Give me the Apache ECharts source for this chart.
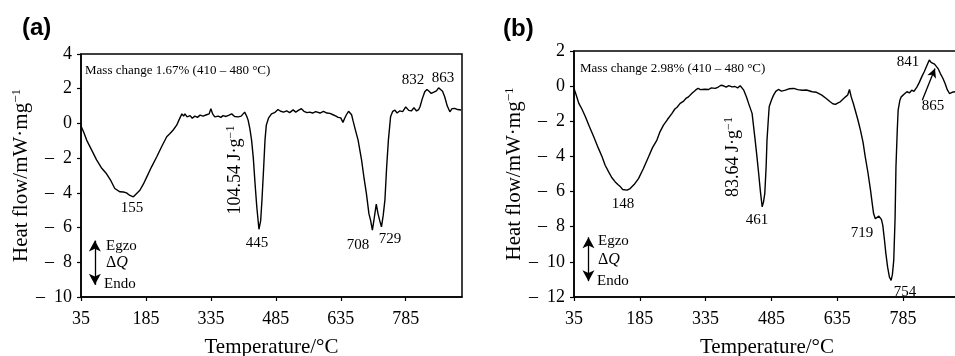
<!DOCTYPE html>
<html>
<head>
<meta charset="utf-8">
<script src="https://cdn.jsdelivr.net/npm/echarts@6/dist/echarts.min.js"></script>
<style>
  html, body { margin: 0; padding: 0; background: #fff; }
  #chart { width: 955px; height: 356px; }
</style>
</head>
<body>
<div id="chart"></div>
<script>
// x tick labels shared by both panels
const xTicks = [35, 185, 335, 485, 635, 785];

// panel (a) DSC curve
const tempA = [35, 42, 48, 60, 71, 82, 94, 104, 113, 125, 133, 140, 148, 156, 163, 171, 179, 187, 198, 210,
  222, 233, 240, 248, 256, 263, 268, 272, 275, 280, 287, 292, 298, 304, 310, 317, 325, 331, 335, 339,
  344, 352, 358, 363, 370, 377, 383, 390, 398, 405, 413, 418, 421, 425, 429, 433, 437, 441, 446, 450,
  453, 457, 460, 463, 468, 475, 482, 490, 496, 503, 510, 517, 525, 531, 537, 544, 550, 557, 563, 570,
  577, 587, 595, 603, 610, 617, 624, 629, 635, 640, 644, 648, 653, 657, 660, 663, 669, 675, 683, 689,
  694, 700, 704, 708, 712, 717, 721, 725, 729, 733, 737, 741, 745, 750, 755, 760, 765, 771, 778, 785,
  792, 798, 804, 810, 815, 818, 823, 829, 834, 839, 844, 850, 856, 861, 865, 870, 875, 881, 887, 892,
  898, 905, 913];
const heatA = [-0.15, -0.55, -0.96, -1.55, -2.1, -2.55, -2.9, -3.3, -3.75, -3.94, -3.95, -4.0, -4.15, -4.23, -4.05, -3.85, -3.5, -3.08, -2.5, -1.92,
  -1.3, -0.77, -0.6, -0.38, -0.1, 0.29, 0.55, 0.42, 0.55, 0.38, 0.45, 0.3, 0.42, 0.35, 0.48, 0.42, 0.5, 0.55, 0.85, 0.55,
  0.38, 0.42, 0.35, 0.45, 0.4, 0.48, 0.55, 0.4, 0.38, 0.42, 0.65, 0.4, 0.19, -0.3, -0.96, -2.0, -3.46, -4.8, -6.1, -5.6,
  -4.4, -2.5, -0.96, -0.1, 0.3, 0.55, 0.62, 0.8, 0.7, 0.65, 0.72, 0.62, 0.78, 0.65, 0.75, 0.85, 0.7, 0.62, 0.65, 0.6,
  0.68, 0.6, 0.7, 0.6, 0.58, 0.5, 0.42, 0.35, 0.32, 0.06, 0.3, 0.5, 0.7, 0.8, 0.5, 0.19, -0.4, -0.96, -2.1, -3.2,
  -4.0, -5.2, -5.6, -6.15, -5.5, -4.65, -5.2, -5.6, -5.96, -5.3, -4.4, -2.5, -0.96, 0.38, 0.7, 0.77, 0.6, 0.72, 0.68, 0.95,
  0.75, 0.72, 0.9, 0.72, 0.8, 0.96, 1.4, 1.83, 1.96, 1.85, 1.73, 1.8, 1.88, 2.05, 2.1, 1.85, 1.54, 1.0, 0.67, 0.85,
  0.87, 0.8, 0.77];

// panel (b) DSC curve
const tempB = [35, 40, 46, 53, 61, 70, 80, 90, 99, 106, 114, 121, 129, 135, 141, 146, 150, 156, 163, 172,
  182, 193, 205, 214, 224, 231, 239, 248, 258, 265, 270, 277, 285, 290, 296, 304, 312, 318, 323, 327,
  333, 342, 348, 357, 364, 370, 376, 382, 388, 395, 402, 408, 414, 418, 422, 428, 433, 441, 448, 452,
  456, 460, 464, 467, 470, 473, 475, 478, 480, 485, 490, 495, 501, 508, 517, 525, 536, 545, 555, 565,
  578, 588, 600, 610, 619, 625, 631, 637, 642, 648, 654, 659, 663, 667, 672, 676, 682, 688, 694, 699,
  705, 711, 715, 718, 722, 726, 730, 733, 736, 739, 743, 746, 750, 754, 758, 761, 764, 767, 769, 772,
  774, 778, 781, 788, 794, 800, 805, 810, 817, 822, 828, 834, 840, 845, 849, 853, 857, 860, 865, 870,
  876, 881, 886, 891, 897, 904, 915];
const heatB = [-0.13, -0.5, -0.98, -1.3, -1.74, -2.3, -2.88, -3.5, -4.02, -4.5, -4.88, -5.2, -5.45, -5.6, -5.73, -5.88, -5.96, -5.92, -5.83, -5.6,
  -5.26, -4.7, -4.02, -3.5, -3.07, -2.6, -2.22, -1.9, -1.56, -1.3, -1.2, -0.98, -0.85, -0.7, -0.61, -0.4, -0.23, -0.12, -0.2, -0.1,
  -0.18, -0.19, -0.1, -0.13, -0.05, 0.05, 0.02, -0.06, 0.03, -0.04, -0.02, -0.1, 0.02, -0.05, -0.23, -0.6, -0.98, -1.55, -3.07, -4.0,
  -4.97, -6.0, -6.87, -6.6, -6.1, -4.6, -3.07, -1.9, -1.17, -0.8, -0.51, -0.3, -0.19, -0.28, -0.23, -0.15, -0.13, -0.2, -0.23, -0.22,
  -0.32, -0.35, -0.51, -0.7, -0.89, -1.0, -1.04, -0.95, -0.89, -0.75, -0.61, -0.5, -0.19, -0.61, -1.0, -1.36, -1.9, -2.5, -3.2, -4.02,
  -4.9, -5.92, -6.7, -7.25, -7.55, -7.63, -7.4, -7.35, -7.6, -7.92, -8.8, -9.53, -10.3, -10.86, -11.05, -10.7, -9.9, -7.5, -4.6, -2.5,
  -1.36, -0.8, -0.61, -0.45, -0.32, -0.38, -0.23, -0.3, -0.04, 0.2, 0.54, 0.85, 1.2, 1.49, 1.35, 1.26, 1.25, 1.2, 1.0, 0.73,
  0.45, 0.15, -0.2, -0.42, -0.35, -0.32, -0.3];

const serif = '"Liberation Serif", "DejaVu Serif", serif';
const sans = '"Liberation Sans", Arial, sans-serif';

const zip = (xs, ys) => xs.map((x, i) => [x, ys[i]]);
const yFmt = v => (v < 0 ? '\u2013\u2002' + (-v) : String(v));

function xAxisFor(gridIndex) {
  return {
    type: 'value', gridIndex, min: 35, max: 915, interval: 150,
    axisLine: { onZero: false, lineStyle: { color: '#000', width: 1.5 } },
    axisTick: { inside: false, length: 4, lineStyle: { color: '#000', width: 1.2 } },
    axisLabel: {
      color: '#000', fontFamily: serif, fontSize: 18, margin: 13, showMaxLabel: false,
      formatter: v => (xTicks.includes(v) ? String(v) : '')
    },
    splitLine: { show: false },
    name: 'Temperature/°C', nameLocation: 'middle', nameGap: 40,
    nameTextStyle: { color: '#000', fontFamily: serif, fontSize: 21 }
  };
}

function yAxisFor(gridIndex, min, max, gap) {
  return {
    type: 'value', gridIndex, min, max, interval: 2,
    axisLine: { show: true, onZero: false, lineStyle: { color: '#000', width: 1.5 } },
    axisTick: { show: true, length: 4, lineStyle: { color: '#000', width: 1.2 } },
    axisLabel: { color: '#000', fontFamily: serif, fontSize: 18, margin: 9, formatter: yFmt },
    splitLine: { show: false },
    name: 'Heat flow/mW·mg{sup|\u22121}', nameLocation: 'middle', nameGap: gap,
    nameTextStyle: {
      color: '#000', fontFamily: serif, fontSize: 21,
      rich: { sup: { fontFamily: serif, fontSize: 13, verticalAlign: 'top', padding: [0, 0, 10, 0] } }
    }
  };
}

const arrowLine = { color: '#000', width: 1.3, type: 'solid' };

function txt(x, y, text, size) {
  return {
    type: 'text', x, y,
    style: { text, fill: '#000', font: size + 'px ' + serif, align: 'center', verticalAlign: 'middle' }
  };
}

function leftTxt(x, y, text, size) {
  const t = txt(x, y, text, size);
  t.style.align = 'left';
  return t;
}

function rotTxt(x, y, num) {
  return {
    type: 'text', x, y, rotation: Math.PI / 2,
    style: {
      text: num + ' J·g{sup|\u22121}', fill: '#000', font: '18px ' + serif,
      align: 'center', verticalAlign: 'middle',
      rich: { sup: { fontFamily: serif, fontSize: 12, verticalAlign: 'top', padding: [0, 0, 9, 0] } }
    }
  };
}

function deltaQ(x, y) {
  return {
    type: 'text', x, y,
    style: {
      text: 'Δ{q|Q}', fill: '#000', font: '16px ' + serif, align: 'left', verticalAlign: 'middle',
      rich: { q: { fontFamily: serif, fontSize: 16, fontStyle: 'italic' } }
    }
  };
}

const gridBase = {
  show: true, borderColor: '#000', borderWidth: 1.5, backgroundColor: 'transparent',
  containLabel: false, outerBoundsMode: 'none'
};

const chart = echarts.init(document.getElementById('chart'), null, { renderer: 'canvas' });

chart.setOption({
  animation: false,
  backgroundColor: '#fff',
  grid: [
    Object.assign({ left: 81, top: 54, width: 381, height: 243 }, gridBase),
    Object.assign({ left: 574, top: 51, width: 386, height: 246 }, gridBase)
  ],
  xAxis: [xAxisFor(0), xAxisFor(1)],
  yAxis: [yAxisFor(0, -10, 4, 47), yAxisFor(1, -12, 2, 46)],
  series: [
    {
      type: 'line', xAxisIndex: 0, yAxisIndex: 0, data: zip(tempA, heatA),
      showSymbol: false, lineStyle: { color: '#000', width: 1.4 },
      markLine: {
        silent: true, symbol: ['arrow', 'arrow'], symbolSize: [9, 11], label: { show: false },
        lineStyle: arrowLine,
        data: [[{ coord: [67, -6.75] }, { coord: [67, -9.3] }]]
      }
    },
    {
      type: 'line', xAxisIndex: 1, yAxisIndex: 1, data: zip(tempB, heatB),
      showSymbol: false, lineStyle: { color: '#000', width: 1.4 },
      markLine: {
        silent: true, symbol: ['arrow', 'arrow'], symbolSize: [9, 11], label: { show: false },
        lineStyle: arrowLine,
        data: [
          [{ coord: [68, -8.6] }, { coord: [68, -11.1] }],
          [{ coord: [829, -0.8], symbol: 'none' }, { coord: [858, 1.0], symbol: 'arrow', symbolSize: [7, 9] }]
        ]
      }
    }
  ],
  graphic: [
    // panel (a)
    { type: 'text', left: 22, top: 16, style: { text: '(a)', fill: '#000', font: 'bold 24px ' + sans } },
    leftTxt(85, 71, 'Mass change 1.67% (410 \u2013 480 °C)', 13),
    txt(132, 208, '155', 15),
    rotTxt(235, 170, '104.54'),
    txt(257, 243, '445', 15),
    txt(358, 245, '708', 15),
    txt(390, 239, '729', 15),
    txt(413, 80, '832', 15),
    txt(443, 78, '863', 15),
    leftTxt(106, 246, 'Egzo', 15),
    deltaQ(106, 263),
    leftTxt(104, 284, 'Endo', 15),
    // panel (b)
    { type: 'text', left: 503, top: 17, style: { text: '(b)', fill: '#000', font: 'bold 24px ' + sans } },
    leftTxt(580, 69, 'Mass change 2.98% (410 \u2013 480 °C)', 13),
    txt(623, 204, '148', 15),
    rotTxt(733, 157, '83.64'),
    txt(757, 220, '461', 15),
    txt(862, 233, '719', 15),
    txt(905, 292, '754', 15),
    txt(908, 62, '841', 15),
    txt(933, 106, '865', 15),
    leftTxt(598, 241, 'Egzo', 15),
    deltaQ(598, 260),
    leftTxt(597, 281, 'Endo', 15)
  ]
});
</script>
</body>
</html>
